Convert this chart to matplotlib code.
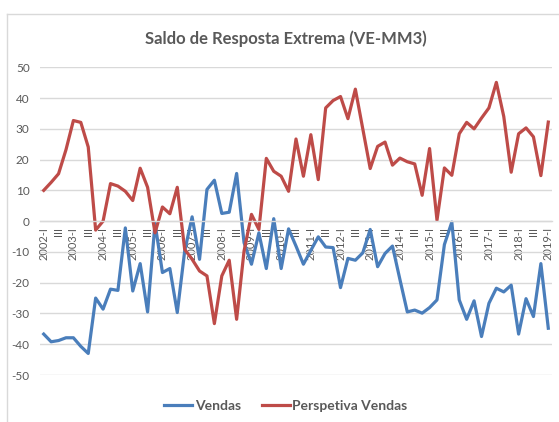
import matplotlib
matplotlib.use("Agg")
import matplotlib.pyplot as plt
from matplotlib.lines import Line2D

years = list(range(2002, 2020))
quarters = [f"{y}-{q}" for y in years for q in ["I", "II", "III", "IV"]][:69]

vendas = [-36.7, -39.2, -38.8, -37.9, -37.9, -40.7, -43.0, -25.0, -28.6, -22.1,
          -22.5, -2.2, -22.7, -13.8, -29.5, -0.7, -16.7, -15.4, -29.7, -9.7,
          1.4, -12.4, 10.3, 13.3, 2.5, 2.9, 15.5, -7.0, -14.0, -3.8,
          -15.4, 0.8, -15.4, -2.5, -8.1, -14.0, -9.5, -5.1, -8.4, -8.6,
          -21.6, -12.1, -12.7, -10.3, -2.7, -14.8, -10.5, -8.1, -18.9, -29.5,
          -28.9, -29.9, -28.1, -25.6, -7.6, -0.3, -25.6, -31.9, -25.9, -37.5,
          -26.7, -21.8, -23.0, -20.8, -36.7, -25.2, -31.0, -13.8, -34.8]

perspetiva = [10.0, 12.6, 15.4, 23.2, 32.7, 32.1, 24.1, -2.9, 0.0, 12.2,
              11.4, 9.7, 6.7, 17.2, 11.0, -3.8, 4.6, 2.4, 11.0, -9.2,
              -12.4, -16.2, -17.8, -33.3, -17.8, -12.7, -31.9, -9.7, 2.2, -2.7,
              20.4, 16.2, 14.6, 9.7, 26.7, 14.6, 28.1, 13.5, 36.8, 39.2,
              40.5, 33.3, 42.9, 30.0, 17.1, 24.3, 25.7, 18.2, 20.5, 19.3,
              18.6, 8.4, 23.6, 0.3, 17.3, 14.9, 28.4, 32.1, 30.0, 33.5,
              36.8, 45.1, 34.0, 15.9, 28.4, 30.3, 27.4, 14.8, 32.2]

series_names = ["Vendas", "Perspetiva Vendas"]
colors = ["#4A7EBB", "#BE4B48"]
yticks = list(range(-50, 51, 10))

tick_pos = [i for i in range(len(quarters)) if i % 2 == 0]
tick_lab = [quarters[i] if i % 4 == 0 else "III" for i in tick_pos]

plt.rcParams['font.family'] = ['Lato', 'DejaVu Sans']
txt = "#595959"
grid = "#D9D9D9"

fig = plt.figure(figsize=(5.59, 4.22), dpi=100)
ax = fig.add_axes([40/559, 1-375/422, 512/559, (375-67.3)/422])

x = list(range(len(quarters)))
ax.plot(x, vendas, color=colors[0], lw=2.3, solid_joinstyle='round')
ax.plot(x, perspetiva, color=colors[1], lw=2.3, solid_joinstyle='round')

ax.set_xlim(-0.5, len(quarters) - 0.5)
ax.set_ylim(-50, 50)
ax.set_yticks(yticks)
ax.set_yticklabels([str(v) for v in yticks])
ax.yaxis.grid(True, color=grid, lw=1)
ax.set_axisbelow(True)
for s in ["top", "right", "left"]:
    ax.spines[s].set_visible(False)
ax.spines["bottom"].set_position(("data", 0))
ax.spines["bottom"].set_color(grid)
ax.spines["bottom"].set_linewidth(1)
ax.set_xticks(tick_pos)
ax.set_xticklabels(tick_lab, rotation=90, ha="center", va="top")
ax.tick_params(axis="x", length=0, pad=4, labelsize=8, colors=txt)
ax.tick_params(axis="y", length=0, pad=7.5, labelsize=8.5, colors=txt)
for lab in ax.get_yticklabels():
    lab.set_horizontalalignment("right")

fig.text(286/559, 1-39/422, "Saldo de Resposta Extrema (VE-MM3)", ha="center", va="center",
         fontsize=12, fontweight="bold", color=txt)

handles = [Line2D([0], [0], color=c, lw=2.3) for c in colors]
leg = fig.legend(handles, series_names, loc="center", bbox_to_anchor=(286/559, 1-406/422),
                 ncol=2, frameon=False, fontsize=10, handlelength=2.0, handletextpad=0.2,
                 columnspacing=1.5)
for t in leg.get_texts():
    t.set_color(txt)
    t.set_fontweight("bold")

fig.add_artist(Line2D([6.5/559, 1], [1-14.3/422, 1-14.3/422], color=grid, lw=1, transform=fig.transFigure))
fig.add_artist(Line2D([6.5/559, 6.5/559], [1-14.3/422, 0], color=grid, lw=1, transform=fig.transFigure))

fig.savefig("out.png", dpi=100)
